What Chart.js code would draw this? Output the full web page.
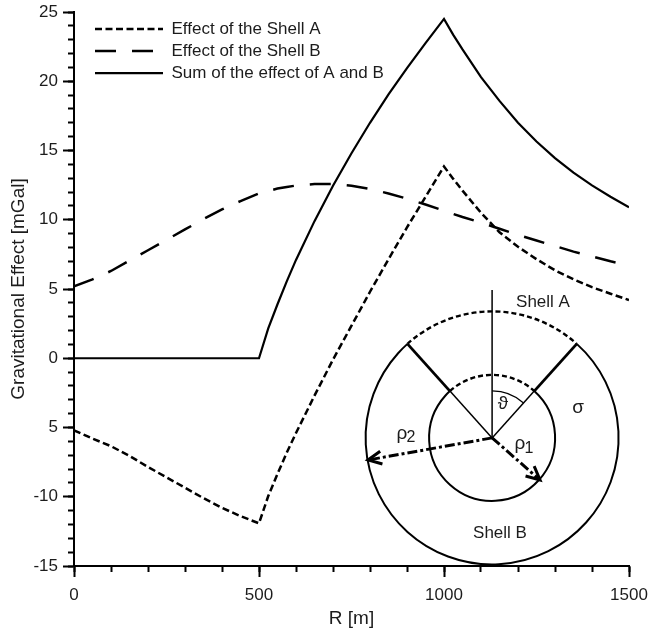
<!DOCTYPE html>
<html>
<head>
<meta charset="utf-8">
<script src="https://cdn.jsdelivr.net/npm/chart.js@4"></script>
<style>
  body { margin: 0; background: #fff; }
</style>
</head>
<body>
<canvas id="shellChart" width="652" height="630"></canvas>
<script>
const radius = [0, 50, 100, 150, 200, 250, 300, 350, 400, 450, 500, 525, 550, 575, 600, 650, 700, 750,
  800, 850, 900, 950, 1000, 1025, 1050, 1100, 1150, 1200, 1250, 1300, 1350, 1400, 1450, 1500];
const shellA = [-5.2, -5.8, -6.35, -7.05, -7.85, -8.6, -9.35, -10.1, -10.8, -11.4, -11.92, -9.95, -8.35, -6.82, -5.4, -2.7, -0.1, 2.35,
  4.8, 7.15, 9.45, 11.65, 13.85, 12.95, 12.1, 10.5, 9.1, 8.05, 7.15, 6.35, 5.7, 5.13, 4.66, 4.2];
const shellB = [5.2, 5.7, 6.3, 7.05, 7.8, 8.55, 9.3, 10.05, 10.75, 11.35, 11.9, 12.08, 12.25, 12.37, 12.47, 12.58, 12.58, 12.45,
  12.22, 11.9, 11.52, 11.1, 10.65, 10.42, 10.2, 9.8, 9.35, 8.9, 8.5, 8.1, 7.7, 7.35, 7.0, 6.7];
const shellSum = [0, 0, 0, 0, 0, 0, 0, 0, 0, 0, 0, 2.15, 3.9, 5.55, 7.1, 9.9, 12.45, 14.8,
  17.0, 19.05, 20.95, 22.75, 24.5, 23.35, 22.3, 20.3, 18.58, 17.0, 15.65, 14.45, 13.4, 12.48, 11.66, 10.9];
// the minus on -5 is missing in the figure
const yTickLabels = { 25: "25", 20: "20", 15: "15", 10: "10", 5: "5", 0: "0", "-5": "5", "-10": "-10", "-15": "-15" };

const textColor = "#1c1c1c";
const fontFamily = "'Liberation Sans', Arial, sans-serif";

function toPoints(values) {
  return values.map((v, i) => ({ x: radius[i], y: v }));
}

// the little shell sketch sitting inside the plot
const shellSketch = {
  id: "shellSketch",
  afterDatasetsDraw(chart) {
    const ctx = chart.ctx;
    const cx = chart.scales.x.getPixelForValue(1130);
    const cy = chart.scales.y.getPixelForValue(-5.75);
    const outer = 126.5, inner = 63;
    const open = 42 * Math.PI / 180;
    const top = -Math.PI / 2;

    ctx.save();
    ctx.strokeStyle = "#000";

    // solid part of both circles, dashed caps on top
    [outer, inner].forEach((r) => {
      ctx.lineWidth = 2;
      ctx.setLineDash([]);
      ctx.beginPath();
      ctx.arc(cx, cy, r, top + open, top - open);
      ctx.stroke();
      ctx.lineWidth = 2.4;
      ctx.setLineDash([5, 3]);
      ctx.beginPath();
      ctx.arc(cx, cy, r, top - open, top + open);
      ctx.stroke();
    });
    ctx.setLineDash([]);

    // side walls of the cone, thick between the shells
    [-1, 1].forEach((side) => {
      const dx = side * Math.sin(open), dy = -Math.cos(open);
      ctx.lineWidth = 1.5;
      ctx.beginPath();
      ctx.moveTo(cx, cy);
      ctx.lineTo(cx + dx * inner, cy + dy * inner);
      ctx.stroke();
      ctx.lineWidth = 2.8;
      ctx.beginPath();
      ctx.moveTo(cx + dx * inner, cy + dy * inner);
      ctx.lineTo(cx + dx * outer, cy + dy * outer);
      ctx.stroke();
    });

    // axis and angle
    ctx.lineWidth = 1.5;
    ctx.beginPath();
    ctx.moveTo(cx, cy);
    ctx.lineTo(cx, cy - 148);
    ctx.stroke();
    ctx.lineWidth = 1.2;
    ctx.beginPath();
    ctx.arc(cx, cy, 47, top, top + open);
    ctx.stroke();

    // radius arrows
    drawArrow(ctx, cx, cy, 368, 460);
    drawArrow(ctx, cx, cy, 540, 480);

    ctx.fillStyle = textColor;
    ctx.textAlign = "center";
    ctx.textBaseline = "middle";
    ctx.font = "17px " + fontFamily;
    ctx.fillText("Shell A", 543, 302);
    ctx.fillText("Shell B", 500, 533);
    ctx.font = "19px " + fontFamily;
    ctx.fillText("σ", 578, 408);
    ctx.fillText("ϑ", 503, 404);
    ctx.fillText("ρ", 402, 434);
    ctx.fillText("ρ", 520, 444);
    ctx.font = "16px " + fontFamily;
    ctx.fillText("2", 411, 438);
    ctx.fillText("1", 529, 449);
    ctx.restore();
  }
};

function drawArrow(ctx, x1, y1, x2, y2) {
  const ang = Math.atan2(y2 - y1, x2 - x1);
  ctx.lineWidth = 3;
  ctx.setLineDash([10, 3, 3, 3]);
  ctx.beginPath();
  ctx.moveTo(x1, y1);
  ctx.lineTo(x2, y2);
  ctx.stroke();
  ctx.setLineDash([]);
  ctx.beginPath();
  ctx.moveTo(x2 - 15 * Math.cos(ang - 0.45), y2 - 15 * Math.sin(ang - 0.45));
  ctx.lineTo(x2, y2);
  ctx.lineTo(x2 - 15 * Math.cos(ang + 0.45), y2 - 15 * Math.sin(ang + 0.45));
  ctx.stroke();
}

// legend sits at a fixed spot inside the plot
const legendSpot = {
  id: "legendSpot",
  beforeDraw(chart) {
    chart.legend.left = 89.9;
    chart.legend.top = 15.4;
  }
};

new Chart(document.getElementById("shellChart"), {
  type: "line",
  data: {
    datasets: [
      { label: "Effect of the Shell A", data: toPoints(shellA), borderColor: "#000", borderWidth: 2.5, borderDash: [7, 3.5], pointRadius: 0, tension: 0 },
      { label: "Effect of the Shell B", data: toPoints(shellB), borderColor: "#000", borderWidth: 2.5, borderDash: [21, 16], pointRadius: 0, tension: 0 },
      { label: "Sum of the effect of A and B", data: toPoints(shellSum), borderColor: "#000", borderWidth: 2.2, pointRadius: 0, tension: 0 }
    ]
  },
  plugins: [shellSketch, legendSpot],
  options: {
    responsive: false,
    animation: false,
    plugins: {
      tooltip: { enabled: false },
      legend: {
        position: "chartArea",
        align: "start",
        labels: {
          usePointStyle: true,
          pointStyle: "line",
          pointStyleWidth: 68,
          padding: 5.1,
          color: textColor,
          font: { family: fontFamily, size: 17 },
          generateLabels(chart) {
            return Chart.defaults.plugins.legend.labels.generateLabels(chart).map((item) => {
              const ds = chart.data.datasets[item.datasetIndex];
              item.lineDash = ds.borderDash || [];
              item.lineWidth = ds.borderWidth;
              return item;
            });
          }
        }
      }
    },
    scales: {
      x: {
        type: "linear",
        position: "bottom",
        weight: 1,
        min: 0,
        max: 1500,
        afterFit(scale) {
          scale.height = 64;
          scale.paddingLeft = 0;
          scale.paddingRight = 23;
        },
        border: { color: "#000", width: 2 },
        grid: { drawOnChartArea: false, color: "#000", tickColor: "#000", tickWidth: 2, tickLength: 11 },
        ticks: { stepSize: 500, maxRotation: 0, padding: 8, color: textColor, font: { family: fontFamily, size: 17 }, callback: (v) => String(v) },
        title: { display: true, text: "R [m]", color: textColor, padding: { top: 0, bottom: 0 }, font: { family: fontFamily, size: 19 } }
      },
      xMinor: {
        type: "linear",
        axis: "x",
        position: "bottom",
        weight: 0,
        min: 0,
        max: 1500,
        afterFit(scale) { scale.height = 0; },
        border: { display: false },
        grid: { drawOnChartArea: false, tickColor: "#000", tickWidth: 2, tickLength: 6 },
        ticks: { display: false, stepSize: 100 }
      },
      y: {
        type: "linear",
        position: "left",
        weight: 1,
        min: -15,
        max: 25,
        afterFit(scale) {
          scale.width = 74;
          scale.paddingTop = 12;
          scale.paddingBottom = 0;
        },
        border: { color: "#000", width: 2 },
        grid: { drawOnChartArea: false, color: "#000", tickColor: "#000", tickWidth: 2, tickLength: 11 },
        ticks: { stepSize: 5, padding: 5, color: textColor, font: { family: fontFamily, size: 17 }, callback: (v) => yTickLabels[v] },
        title: { display: true, text: "Gravitational Effect [mGal]", color: textColor, padding: { top: 7, bottom: 0 }, font: { family: fontFamily, size: 19 } }
      },
      yMinor: {
        type: "linear",
        axis: "y",
        position: "left",
        weight: 0,
        min: -15,
        max: 25,
        afterFit(scale) { scale.width = 0; },
        border: { display: false },
        grid: { drawOnChartArea: false, tickColor: "#000", tickWidth: 2, tickLength: 6 },
        ticks: { display: false, stepSize: 1 }
      }
    }
  }
});
</script>
</body>
</html>
